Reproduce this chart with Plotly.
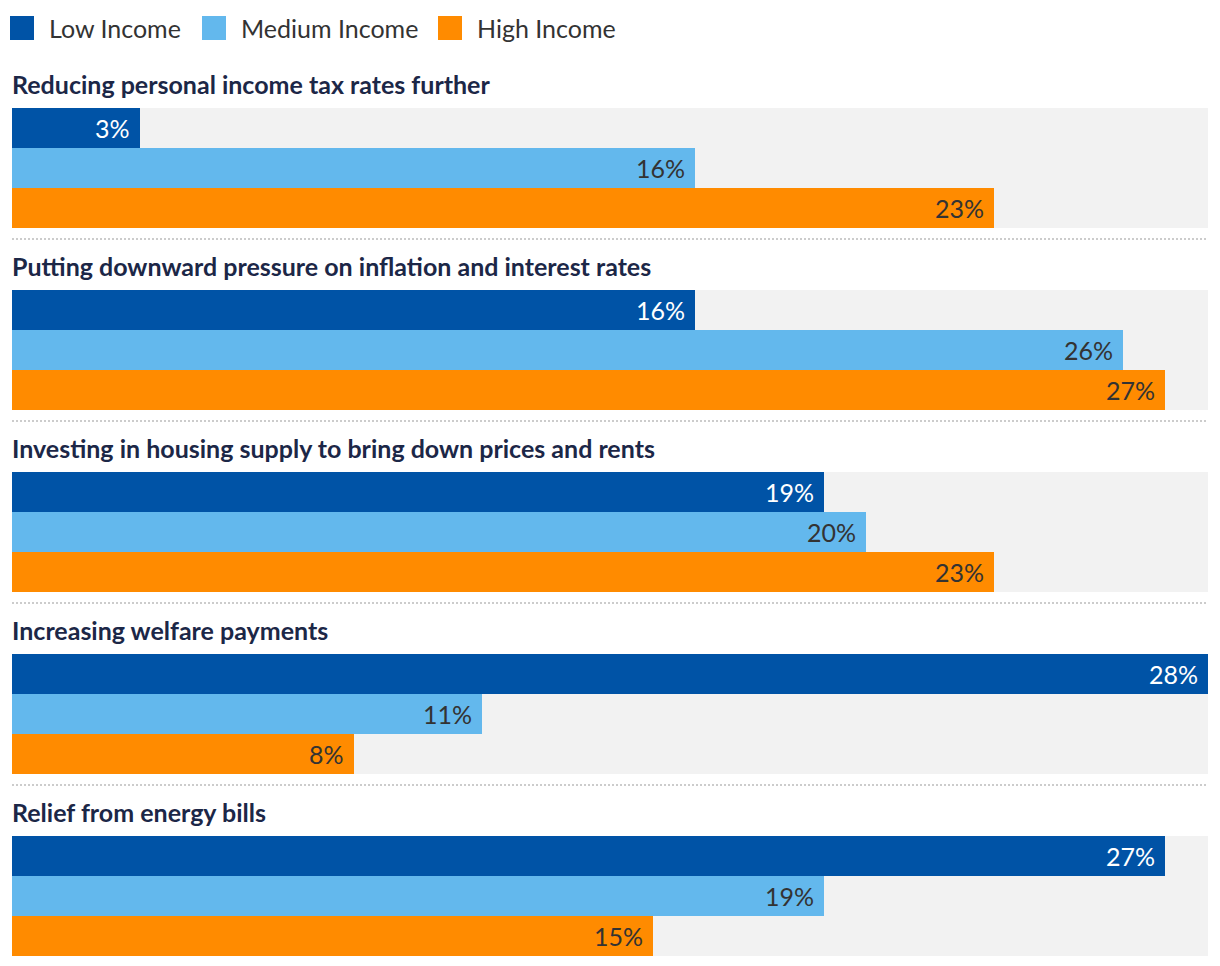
import plotly.graph_objects as go
from plotly.subplots import make_subplots

categories = [
    "Reducing personal income tax rates further",
    "Putting downward pressure on inflation and interest rates",
    "Investing in housing supply to bring down prices and rents",
    "Increasing welfare payments",
    "Relief from energy bills",
]
series_names = ["Low Income", "Medium Income", "High Income"]
low_income = [3, 16, 19, 28, 27]
medium_income = [16, 26, 20, 11, 19]
high_income = [23, 27, 23, 8, 15]
series_values = [low_income, medium_income, high_income]

colors = ["#0053a6", "#63b8ed", "#ff8b00"]
label_colors = ["#ffffff", "#333333", "#333333"]
title_color = "#1c2747"
FONT = "Lato"
FS = 25

W, H = 1220, 966
ML, MR, MT, MB = 12, 12, 108, 10
BAR_BLOCK = 120
GAP = 62
plot_h = H - MT - MB
n = len(categories)

fig = make_subplots(rows=n, cols=1, vertical_spacing=GAP / plot_h, shared_xaxes=False)

xmax = 28
for r in range(n):
    sfx = "" if r == 0 else str(r + 1)
    for s, name in enumerate(series_names):
        v = series_values[s][r]
        fig.add_trace(
            go.Bar(
                x=[v], y=[name], orientation="h",
                marker=dict(color=colors[s], line=dict(width=0)),
                name=name, showlegend=False, hoverinfo="x+y",
            ),
            row=r + 1, col=1,
        )
        fig.add_annotation(
            x=v, y=name, xref="x" + sfx, yref="y" + sfx,
            text=f"{v}%", showarrow=False, xanchor="right", yanchor="middle",
            xshift=-8, font=dict(family=FONT, size=FS, color=label_colors[s]),
        )
    fig.add_annotation(
        x=0, xref="paper", y=1, yref=f"y{sfx} domain",
        text=f"<b>{categories[r]}</b>", showarrow=False,
        xanchor="left", yanchor="middle", yshift=24, xshift=-2,
        font=dict(family=FONT, size=FS, color=title_color),
    )
    fig.update_xaxes(range=[0, xmax], visible=False, fixedrange=True, row=r + 1, col=1)
    fig.update_yaxes(autorange="reversed", visible=False, fixedrange=True,
                     categoryorder="array", categoryarray=series_names, row=r + 1, col=1)


def py(p):
    return (H - MB - p) / plot_h


def px(p):
    return (p - ML) / (W - ML - MR)


shapes = []
for r in range(n - 1):
    yp = MT + BAR_BLOCK + 11 + r * (BAR_BLOCK + GAP)
    shapes.append(dict(type="line", xref="paper", yref="paper", x0=0, x1=1,
                       y0=py(yp), y1=py(yp),
                       line=dict(color="#cccccc", width=2, dash="2px,2px")))

legend_x = [10, 202, 438]
for s, name in enumerate(series_names):
    x0 = legend_x[s]
    shapes.append(dict(type="rect", xref="paper", yref="paper",
                       x0=px(x0), x1=px(x0 + 24), y0=py(16), y1=py(40),
                       fillcolor=colors[s], line=dict(width=0)))
    fig.add_annotation(x=px(x0 + 37), y=py(28), xref="paper", yref="paper",
                       text=name, showarrow=False, xanchor="left", yanchor="middle",
                       font=dict(family=FONT, size=FS, color="#333333"))

fig.update_layout(
    width=W, height=H,
    margin=dict(l=ML, r=MR, t=MT, b=MB, pad=0),
    plot_bgcolor="#f2f2f2", paper_bgcolor="#ffffff",
    bargap=0, barmode="group", showlegend=False,
    shapes=shapes,
    font=dict(family=FONT),
)

fig.write_html("out.html", config={"displayModeBar": False},
               post_script="document.body.style.margin='0';")
